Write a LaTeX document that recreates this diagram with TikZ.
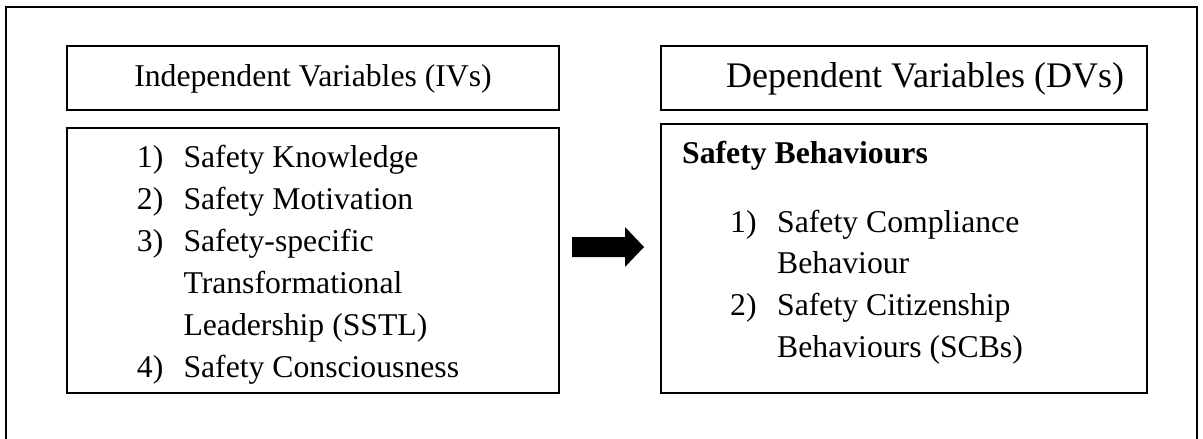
\documentclass[tikz,border=0pt]{standalone}
\usepackage{fontspec}
\setmainfont{Liberation Serif}
\begin{document}
\begin{tikzpicture}[x=1pt,y=-1pt,
  box/.style={draw=black,line width=2pt,inner sep=0pt},
  txt/.style={anchor=base west,inner sep=0pt,font=\fontsize{31.7}{38}\selectfont},
  ctxt/.style={anchor=base,inner sep=0pt,font=\fontsize{31.7}{38}\selectfont},
  frame/.style={draw=black,line width=2pt}]
\useasboundingbox (0,0) rectangle (1203,439);
\begin{scope}
\clip (0,0) rectangle (1203,439);
\draw[frame] (6,7) rectangle (1197,450);
\end{scope}
% boxes
\draw[box] (67,46) rectangle (559,110);
\draw[box] (661,46) rectangle (1147,110);
\draw[box] (67,128) rectangle (559,393);
\draw[box] (661,124) rectangle (1147,393);
% headers
\node[ctxt] (ivh) at (313,86) {Independent Variables (IVs)};
\node[txt,font=\fontsize{36}{42}\selectfont] (dvh) at (726,87.5) {Dependent Variables (DVs)};
% IV list
\node[txt] (n1) at (136.7,167) {1)};
\node[txt] (t1) at (183.3,167) {Safety Knowledge};
\node[txt] (n2) at (136.7,209) {2)};
\node[txt] (t2) at (183.3,209) {Safety Motivation};
\node[txt] (n3) at (136.7,251) {3)};
\node[txt] (t3) at (183.3,251) {Safety-specific};
\node[txt] (t3b) at (183.3,293) {Transformational};
\node[txt] (t3c) at (183.3,335) {Leadership (SSTL)};
\node[txt] (n4) at (136.7,377) {4)};
\node[txt] (t4) at (183.3,377) {Safety Consciousness};
% DV list
\node[txt,font=\fontsize{31.7}{38}\selectfont\bfseries] (sb) at (682,163) {Safety Behaviours};
\node[txt] (m1) at (730,232) {1)};
\node[txt] (d1) at (777,232) {Safety Compliance};
\node[txt] (d1b) at (777,273) {Behaviour};
\node[txt] (m2) at (730,315) {2)};
\node[txt] (d2) at (777,315) {Safety Citizenship};
\node[txt] (d2b) at (777,357) {Behaviours (SCBs)};
% block arrow
\fill[black] (572,237) -- (625,237) -- (625,227) -- (644,247) -- (625,267) -- (625,257) -- (572,257) -- cycle;
\end{tikzpicture}
\end{document}
